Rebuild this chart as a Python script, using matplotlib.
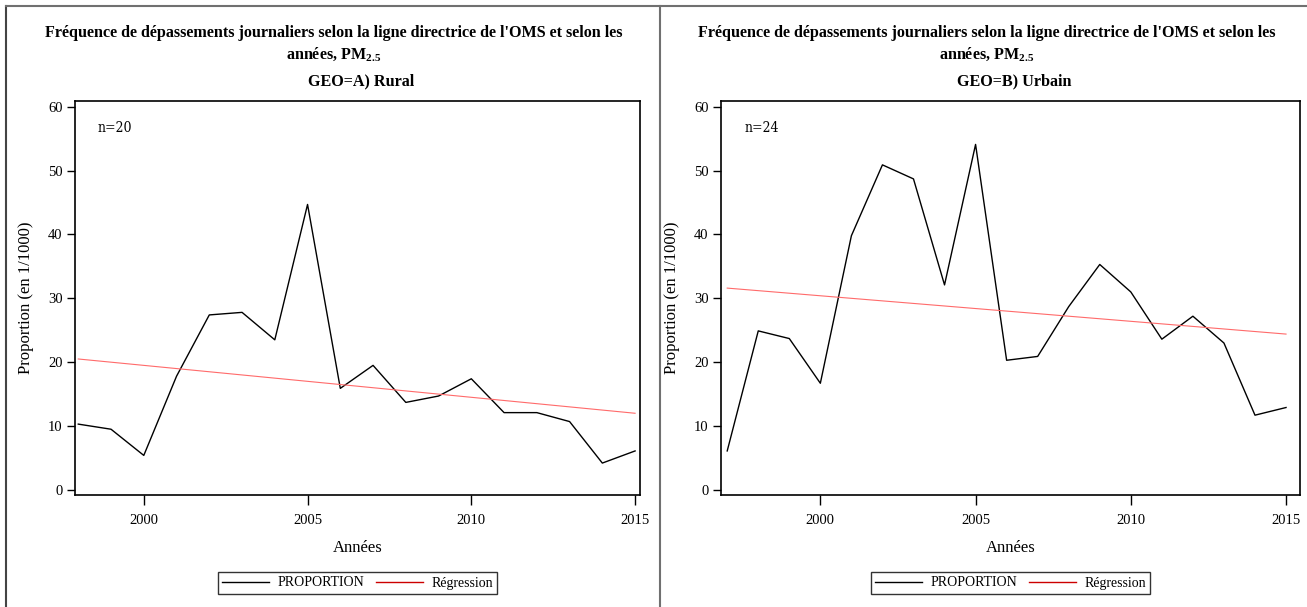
import matplotlib.pyplot as plt
from matplotlib.lines import Line2D

plt.rcParams['font.family'] = ['Liberation Serif', 'DejaVu Serif']
plt.rcParams['mathtext.fontset'] = 'custom'
plt.rcParams['mathtext.rm'] = 'Liberation Serif'
plt.rcParams['mathtext.bf'] = 'Liberation Serif:bold'

# --- données ---
years_rural = [1998, 1999, 2000, 2001, 2002, 2003, 2004, 2005, 2006,
               2007, 2008, 2009, 2010, 2011, 2012, 2013, 2014, 2015]
prop_rural = [10.3, 9.5, 5.4, 17.8, 27.4, 27.8, 23.5, 44.7, 15.9,
              19.5, 13.7, 14.7, 17.4, 12.1, 12.1, 10.7, 4.2, 6.1]
reg_rural = [20.5, 12.0]          # valeurs en 1998 et 2015

years_urban = [1997, 1998, 1999, 2000, 2001, 2002, 2003, 2004, 2005, 2006,
               2007, 2008, 2009, 2010, 2011, 2012, 2013, 2014, 2015]
prop_urban = [6.1, 24.9, 23.7, 16.7, 39.8, 50.9, 48.7, 32.1, 54.1, 20.3,
              20.9, 28.7, 35.3, 31.0, 23.6, 27.2, 23.0, 11.7, 12.9]
reg_urban = [31.6, 24.4]          # valeurs en 1997 et 2015

panels = [
    ("GEO=A) Rural", "n=20", years_rural, prop_rural, reg_rural, (1997.9, 2015.15)),
    ("GEO=B) Urbain", "n=24", years_urban, prop_urban, reg_urban, (1996.8, 2015.45)),
]

W, H = 1307, 607
fig = plt.figure(figsize=(W / 100, H / 100), dpi=100)

boxes = [(75, 101, 640, 495), (721, 101, 1300, 495)]
title = ("Fréquence de dépassements journaliers selon la ligne directrice de l'OMS et selon les\n"
         r"années, PM$_{\mathbf{2.5}}$")

for (geo, ntxt, yrs, vals, reg, xl), (x0, y0, x1, y1) in zip(panels, boxes):
    ax = fig.add_axes([x0 / W, 1 - y1 / H, (x1 - x0) / W, (y1 - y0) / H])
    ax.plot(yrs, vals, color='black', lw=1.0)
    ax.plot([yrs[0], yrs[-1]], reg, color='#ff6b6b', lw=0.8)
    ax.set_xlim(*xl)
    ax.set_ylim(-0.8, 60.9)
    ax.set_xticks([2000, 2005, 2010, 2015])
    ax.set_yticks(range(0, 61, 10))
    ax.tick_params(axis='x', direction='out', length=7, width=1, labelsize=10.5, pad=7)
    ax.tick_params(axis='y', direction='out', length=6, width=1, labelsize=10.5, pad=3)
    for s in ax.spines.values():
        s.set_linewidth(1.2)
    ax.set_xlabel("Années", fontsize=12, labelpad=9)
    ax.set_ylabel("Proportion (en 1/1000)", fontsize=12, labelpad=10)
    ax.text(0.04, 0.95, ntxt, transform=ax.transAxes, fontsize=10,
            va='top', ha='left', family=['DejaVu Serif'], fontstretch='condensed')

    cx = (x0 + x1) / 2 / W
    fig.text(cx - 0.018, 1 - 25 / H, title, ha='center', va='top', fontsize=11.6,
             fontweight='bold', linespacing=1.35)
    fig.text(cx + 0.003, 1 - 81 / H, geo, ha='center', va='center', fontsize=11.6,
             fontweight='bold')

    handles = [Line2D([], [], color='black', lw=1),
               Line2D([], [], color='#cc0000', lw=1)]
    leg = fig.legend(handles, ["PROPORTION", "Régression"], loc='center',
                     bbox_to_anchor=(cx, 1 - 583 / H), ncol=2, fontsize=10,
                     frameon=True, fancybox=False, edgecolor='black',
                     handlelength=3.4, columnspacing=0.8, borderpad=0.3,
                     handletextpad=0.6, borderaxespad=0)
    leg.get_frame().set_linewidth(1.0)

# cadres des panneaux
gray = '#707070'
fig.add_artist(Line2D([6 / W, 6 / W], [0, 1 - 6 / H], color='#444444', lw=1.5))
fig.add_artist(Line2D([6 / W, 1], [1 - 6 / H, 1 - 6 / H], color=gray, lw=1.5))
fig.add_artist(Line2D([660 / W, 660 / W], [0, 1 - 6 / H], color=gray, lw=1.5))

fig.savefig("out.png", dpi=100)
